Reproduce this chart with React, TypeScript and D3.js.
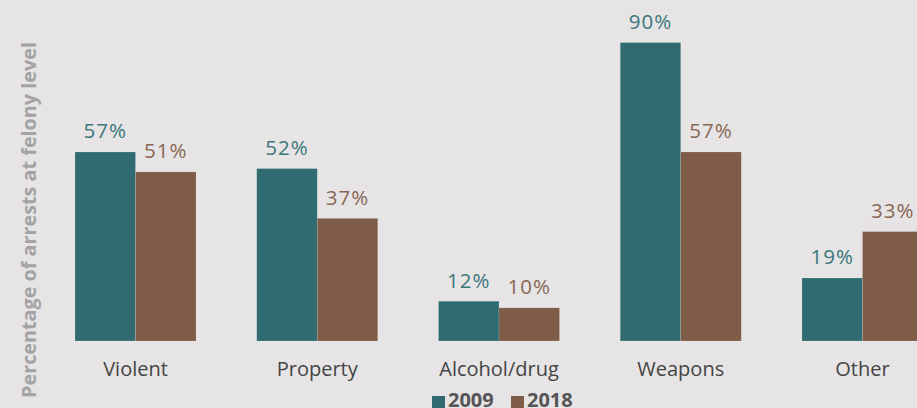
import React from "react";
import * as d3 from "d3";

const categories = ["Violent", "Property", "Alcohol/drug", "Weapons", "Other"];
const series2009 = [57, 52, 12, 90, 19];
const series2018 = [51, 37, 10, 57, 33];
const seriesNames = ["2009", "2018"];

const W = 917;
const H = 408;
const FONT = "'Open Sans', 'Noto Sans', sans-serif";

export default function App() {
  const x = d3.scaleBand<string>().domain(categories).range([75, 923]).paddingInner(0.334).paddingOuter(0);
  const sub = d3.scaleBand<string>().domain(seriesNames).range([0, x.bandwidth()]).padding(0);
  const y = d3.scaleLinear().domain([0, 100]).range([341, 9.4]);
  const colors = ["#2f6b70", "#7e5c48"];
  const labelColors = ["#3b777c", "#896753"];
  const data = [series2009, series2018];

  return (
    <svg width={W} height={H} style={{ display: "block", position: "absolute", left: 0, top: 0, background: "#e6e4e5" }}>
      <rect x={0} y={0} width={W} height={H} fill="#e6e4e5" />
      {categories.map((c, i) => (
        <g key={c}>
          {seriesNames.map((s, j) => {
            const v = data[j][i];
            const bx = (x(c) ?? 0) + (sub(s) ?? 0);
            return (
              <g key={s}>
                <rect x={bx} y={y(v)} width={sub.bandwidth()} height={y(0) - y(v)} fill={colors[j]} stroke="rgba(255,255,255,0.25)" strokeWidth={0.6} />
                <text x={bx + sub.bandwidth() / 2} y={y(v) - 13.5} textAnchor="middle" fontFamily={FONT} fontSize={20.5} letterSpacing={1} fill={labelColors[j]}>
                  {v}%
                </text>
              </g>
            );
          })}
          <text x={(x(c) ?? 0) + x.bandwidth() / 2} y={376} textAnchor="middle" fontFamily={FONT} fontSize={20} fill="#444444">
            {c}
          </text>
        </g>
      ))}
      <text transform={`translate(36,220) rotate(-90)`} textAnchor="middle" fontFamily={FONT} fontWeight="bold" fontSize={19.8} fill="#a3a3a3">
        Percentage of arrests at felony level
      </text>
      {seriesNames.map((s, j) => {
        const lx = [432, 511][j];
        return (
          <g key={s}>
            <rect x={lx} y={396} width={13} height={13} fill={colors[j]} />
            <text x={lx + 16} y={406.5} fontFamily={FONT} fontWeight="bold" fontSize={20} fill="#555555">
              {s}
            </text>
          </g>
        );
      })}
    </svg>
  );
}
